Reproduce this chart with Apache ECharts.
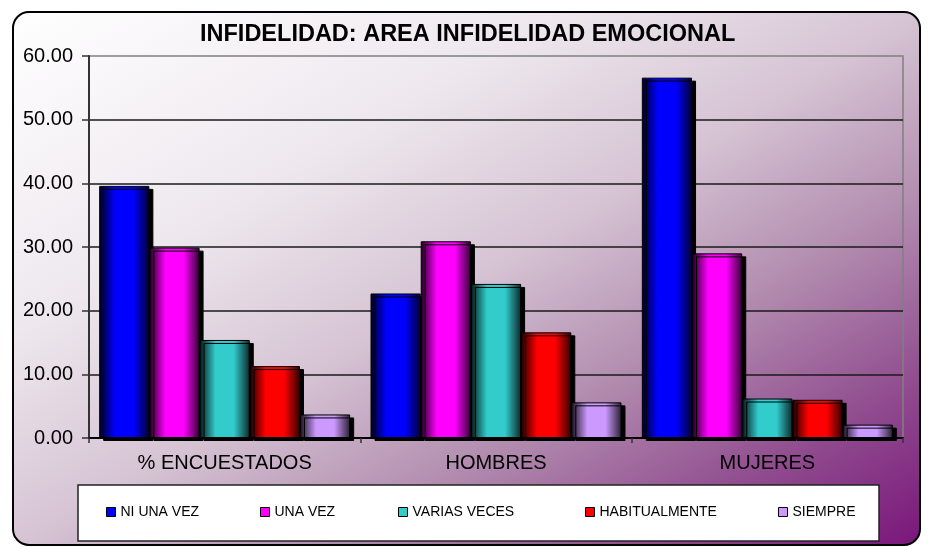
<!DOCTYPE html>
<html>
<head>
<meta charset="utf-8">
<script src="https://cdn.jsdelivr.net/npm/echarts@6/dist/echarts.min.js"></script>
<style>
    html, body { margin: 0; padding: 0; background: #fff; }
    #container { width: 928px; height: 547px; }
</style>
</head>
<body>
<div id="container"></div>
<script>
    // datos
    var categories = ['% ENCUESTADOS', 'HOMBRES', 'MUJERES'];
    var seriesNames = ['NI UNA VEZ', 'UNA VEZ', 'VARIAS VECES', 'HABITUALMENTE', 'SIEMPRE'];
    var niUnaVez = [39.6, 22.7, 56.6];
    var unaVez = [29.9, 30.9, 29.0];
    var variasVeces = [15.4, 24.2, 6.2];
    var habitualmente = [11.3, 16.6, 6.0];
    var siempre = [3.7, 5.6, 2.1];
    var yTicks = [0, 10, 20, 30, 40, 50, 60];

    var seriesData = [niUnaVez, unaVez, variasVeces, habitualmente, siempre];
    var colors = ['#0000FF', '#FF00FF', '#33CCCC', '#FF0000', '#CC99FF'];
    var legendLeft = [106, 260, 398, 585, 778];

    // oscurecer un color (k = 0 negro, 1 original)
    function shade(hex, k) {
        var r = parseInt(hex.substr(1, 2), 16), g = parseInt(hex.substr(3, 2), 16), b = parseInt(hex.substr(5, 2), 16);
        return 'rgb(' + Math.round(r * k) + ',' + Math.round(g * k) + ',' + Math.round(b * k) + ')';
    }

    function barGradient(c) {
        return new echarts.graphic.LinearGradient(0, 0, 1, 0, [
            {offset: 0, color: shade(c, 0.1)},
            {offset: 0.12, color: shade(c, 0.45)},
            {offset: 0.32, color: c},
            {offset: 0.68, color: c},
            {offset: 0.9, color: shade(c, 0.45)},
            {offset: 1, color: shade(c, 0.2)}
        ]);
    }

    var font = 'Liberation Sans, Arial, sans-serif';

    var series = seriesNames.map(function (name, i) {
        return {
            name: name,
            type: 'bar',
            data: seriesData[i],
            barGap: 0,
            barCategoryGap: '7.5%',
            itemStyle: {
                color: barGradient(colors[i]),
                borderColor: '#000',
                borderWidth: 1,
                shadowColor: '#000',
                shadowBlur: 0,
                shadowOffsetX: 4,
                shadowOffsetY: 3
            }
        };
    });

    var legends = seriesNames.map(function (name, i) {
        return {
            left: legendLeft[i],
            top: 505,
            padding: 0,
            itemWidth: 9,
            itemHeight: 9,
            itemGap: 0,
            textStyle: {color: '#000', fontSize: 14, fontFamily: font},
            data: [{
                name: name,
                icon: 'rect',
                itemStyle: {color: colors[i], borderColor: '#000', borderWidth: 1, shadowBlur: 0, shadowOffsetX: 0, shadowOffsetY: 0}
            }]
        };
    });

    var option = {
        animation: false,
        title: {
            text: 'INFIDELIDAD: AREA INFIDELIDAD EMOCIONAL',
            left: 200,
            top: 23,
            padding: 0,
            textStyle: {color: '#000', fontSize: 23.5, fontWeight: 'bold', fontFamily: font}
        },
        graphic: [
            {
                type: 'rect',
                z: -10,
                shape: {x: 13, y: 12, width: 907, height: 533, r: 16},
                style: {
                    fill: new echarts.graphic.LinearGradient(13, 12, 480, 805, [
                        {offset: 0, color: '#ffffff'},
                        {offset: 0.3, color: '#eee8ee'},
                        {offset: 0.5, color: '#d6c4d4'},
                        {offset: 0.67, color: '#b38eb0'},
                        {offset: 0.85, color: '#8f4a8e'},
                        {offset: 1, color: '#7a167a'}
                    ], true),
                    stroke: '#000',
                    lineWidth: 2
                }
            },
            {
                type: 'rect',
                z: 1,
                shape: {x: 78, y: 485, width: 801, height: 56},
                style: {fill: '#fff', stroke: '#222', lineWidth: 1.5}
            }
        ],
        legend: legends,
        grid: {
            left: 89,
            right: 25,
            top: 56,
            bottom: 109,
            show: true,
            borderColor: '#808080',
            borderWidth: 1.5,
            backgroundColor: 'transparent'
        },
        xAxis: {
            type: 'category',
            data: categories,
            axisLine: {lineStyle: {color: '#000', width: 2}},
            axisTick: {show: true, length: 5, lineStyle: {color: '#333', width: 1.5}},
            axisLabel: {color: '#000', fontSize: 20, fontFamily: font, margin: 15}
        },
        yAxis: {
            type: 'value',
            min: yTicks[0],
            max: yTicks[yTicks.length - 1],
            interval: 10,
            axisLine: {show: true, lineStyle: {color: '#333', width: 2}},
            axisTick: {show: true, length: 7, lineStyle: {color: '#333', width: 1.5}},
            axisLabel: {
                color: '#000', fontSize: 20, fontFamily: font, margin: 16,
                formatter: function (v) { return v.toFixed(2); }
            },
            splitLine: {show: true, showMaxLine: false, lineStyle: {color: '#1a1a1a', width: 1.5}}
        },
        series: series
    };

    var chart = echarts.init(document.getElementById('container'));
    chart.setOption(option);
</script>
</body>
</html>
